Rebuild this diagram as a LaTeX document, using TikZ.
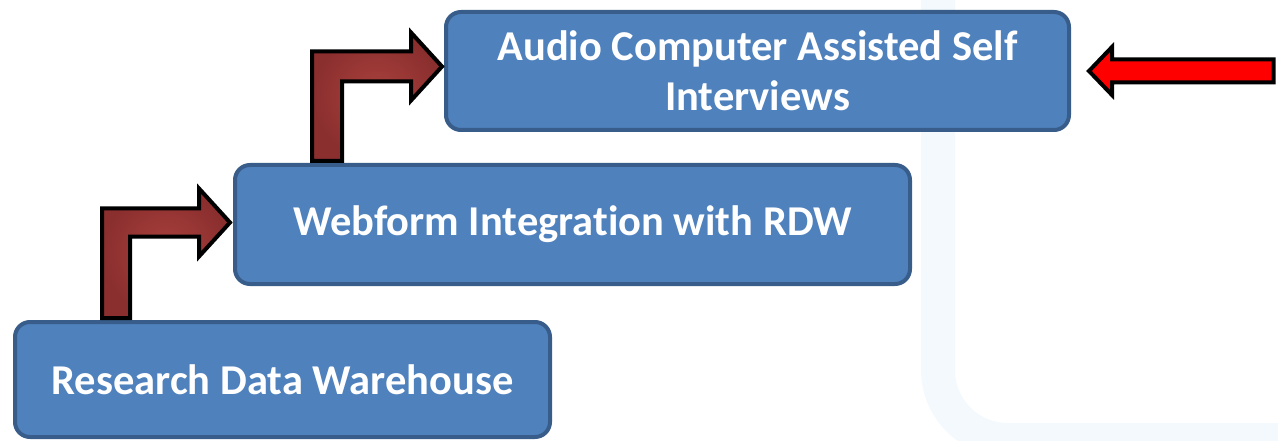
\documentclass[tikz,border=0pt]{standalone}
\usepackage{fontspec}
\setmainfont{Carlito}[Ligatures=NoCommon]
\usetikzlibrary{calc}
\definecolor{boxfill}{HTML}{4F81BD}
\definecolor{boxline}{HTML}{385D8A}
\definecolor{arrin}{HTML}{AA423D}
\definecolor{arrout}{HTML}{8A2E2E}
\definecolor{bgband}{HTML}{F3F9FD}
\tikzset{
  stagebox/.style={rectangle, rounded corners=15pt, draw=boxline, fill=boxfill,
    line width=4pt, text=white, align=center,
    font=\bfseries\fontsize{42.5}{50}\selectfont, inner sep=0pt},
  bentarrow/.style={draw=black, line width=4pt, line join=miter,
    shading=radial, inner color=arrin, outer color=arrout},
  redarrow/.style={draw=black, line width=4pt, line join=miter, fill=red}
}
\begin{document}
\begin{tikzpicture}[x=1pt, y=-1pt]
\useasboundingbox (0,0) rectangle (1278,441);
% faint background band
\draw[bgband, line width=34pt, rounded corners=70pt] (938,-20) -- (938,440) -- (1300,440);
% boxes
\node[stagebox, minimum width=535pt, minimum height=115pt] (rdw) at (282.5,379.5) {Research Data Warehouse};
\node[stagebox, minimum width=675pt, minimum height=119pt] (web) at (572.5,224.5) {Webform Integration with RDW};
\node[stagebox, minimum width=623pt, minimum height=118pt] (acasi) at (757.5,71) {Audio Computer Assisted Self\\Interviews};
% bent arrow 1: from rdw up and right to web
\coordinate (b1) at (rdw.north -| 116,0);
\coordinate (t1) at ($(web.west)+(-3,-2)$);
\path[bentarrow]
  let \p1=(b1), \p2=(t1) in
  (\x1-14,\y1+2) -- (\x1-14,\y2+14) -- (\x2-31,\y2+14) -- (\x2-31,\y2+34) -- (\x2,\y2)
  -- (\x2-31,\y2-34) -- (\x2-31,\y2-14) -- (\x1+14,\y2-14) -- (\x1+14,\y1+2) -- cycle;
% bent arrow 2: from web up and right to acasi
\coordinate (b2) at (web.north -| 327,0);
\coordinate (t2) at ($(acasi.west)+(-2,-4.5)$);
\path[bentarrow]
  let \p1=(b2), \p2=(t2) in
  (\x1-15,\y1+2) -- (\x1-15,\y2+15) -- (\x2-31,\y2+15) -- (\x2-31,\y2+34) -- (\x2,\y2)
  -- (\x2-31,\y2-34) -- (\x2-31,\y2-15) -- (\x1+15,\y2-15) -- (\x1+15,\y1+2) -- cycle;
% red arrow pointing at acasi
\coordinate (rt) at ($(acasi.east)+(18,0)$);
\coordinate (re) at (1273.5,71);
\path[redarrow]
  let \p1=(rt), \p2=(re) in
  (\x1,\y1) -- (\x1+23,\y1+24) -- (\x1+23,\y1+11.5) -- (\x2,\y1+11.5) -- (\x2,\y1-11.5)
  -- (\x1+23,\y1-11.5) -- (\x1+23,\y1-24) -- cycle;
\end{tikzpicture}
\end{document}
